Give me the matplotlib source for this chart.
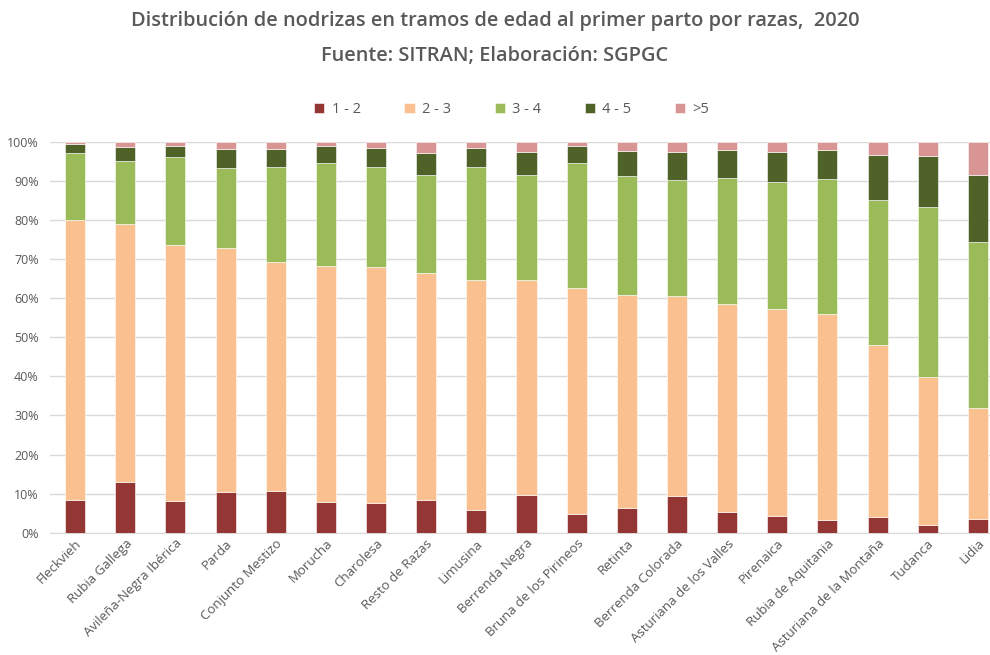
import matplotlib
matplotlib.use("Agg")
import matplotlib.pyplot as plt
from matplotlib.ticker import PercentFormatter
import numpy as np

razas = ["Fleckvieh", "Rubia Gallega", "Avileña-Negra Ibérica", "Parda", "Conjunto Mestizo",
         "Morucha", "Charolesa", "Resto de Razas", "Limusina", "Berrenda Negra",
         "Bruna de los Pirineos", "Retinta", "Berrenda Colorada", "Asturiana de los Valles",
         "Pirenaica", "Rubia de Aquitania", "Asturiana de la Montaña", "Tudanca", "Lidia"]

tramo_1_2 = [8.4, 12.9, 8.2, 10.4, 10.7, 7.9, 7.7, 8.4, 5.8, 9.6, 4.7, 6.3, 9.3, 5.3, 4.2, 3.2, 4.0, 2.0, 3.4]
tramo_2_3 = [71.6, 66.2, 65.5, 62.5, 58.7, 60.3, 60.2, 58.1, 58.9, 55.1, 58.0, 54.5, 51.2, 53.2, 53.1, 52.7, 44.0, 37.8, 28.6]
tramo_3_4 = [17.1, 16.0, 22.5, 20.4, 24.1, 26.5, 25.8, 25.1, 28.8, 26.8, 31.8, 30.5, 29.9, 32.2, 32.4, 34.6, 37.2, 43.5, 42.5]
tramo_4_5 = [2.3, 3.7, 2.9, 4.9, 4.7, 4.3, 4.7, 5.6, 4.9, 5.9, 4.5, 6.4, 7.1, 7.3, 7.8, 7.4, 11.6, 13.0, 17.1]
tramo_5 = [0.6, 1.2, 0.9, 1.8, 1.8, 1.0, 1.6, 2.8, 1.6, 2.6, 1.0, 2.3, 2.5, 2.0, 2.5, 2.1, 3.2, 3.7, 8.4]

series_labels = ["1 - 2", "2 - 3", "3 - 4", "4 - 5", ">5"]
series = [tramo_1_2, tramo_2_3, tramo_3_4, tramo_4_5, tramo_5]
colors = ["#943634", "#FAC090", "#9BBB59", "#4F6228", "#D99594"]

title = "Distribución de nodrizas en tramos de edad al primer parto por razas,  2020\nFuente: SITRAN; Elaboración: SGPGC"

plt.rcParams['font.family'] = ['Open Sans', 'DejaVu Sans']
grey = "#595959"

fig = plt.figure(figsize=(9.9, 6.55), dpi=100)
ax = fig.add_axes([50/990, 1-532.7/655, 953/990, (532.7-142)/655])

x = np.arange(len(razas))
data = np.array(series, dtype=float)
data = data / data.sum(axis=0) * 100
bottom = np.zeros(len(razas))
handles = []
for vals, lab, c in zip(data, series_labels, colors):
    h = ax.bar(x, vals / 100, 0.4, bottom=bottom / 100, color=c, label=lab,
               edgecolor="white", linewidth=0.4, zorder=3)
    handles.append(h)
    bottom += vals

ax.set_xlim(-0.5, len(razas) - 0.5)
ax.set_ylim(0, 1)
ax.set_yticks(np.arange(0, 1.01, 0.1))
ax.yaxis.set_major_formatter(PercentFormatter(1.0, decimals=0))
ax.grid(axis="y", color="#D9D9D9", linewidth=1, zorder=0)
for s in ["top", "right", "left"]:
    ax.spines[s].set_visible(False)
ax.spines["bottom"].set_color("#D9D9D9")
ax.tick_params(axis="both", length=0, colors=grey, labelsize=9)
ax.tick_params(axis="y", pad=8)
ax.tick_params(axis="x", pad=3)
ax.set_xticks(x)
ax.set_xticklabels(razas, rotation=45, ha="right", rotation_mode="anchor", fontsize=9.5, color=grey)

fig.text(0.5, 0.9405, title, ha="center", va="center", fontsize=14.4, color=grey,
         fontweight="semibold", linespacing=2.0)

fig.legend(handles=handles, labels=series_labels, loc="center", bbox_to_anchor=(0.517, 0.833),
           ncol=5, frameon=False, fontsize=10.5, handlelength=0.7, handleheight=0.7,
           columnspacing=3.0, handletextpad=0.5, labelcolor=grey)

fig.savefig("out.png", dpi=100, facecolor="white")
